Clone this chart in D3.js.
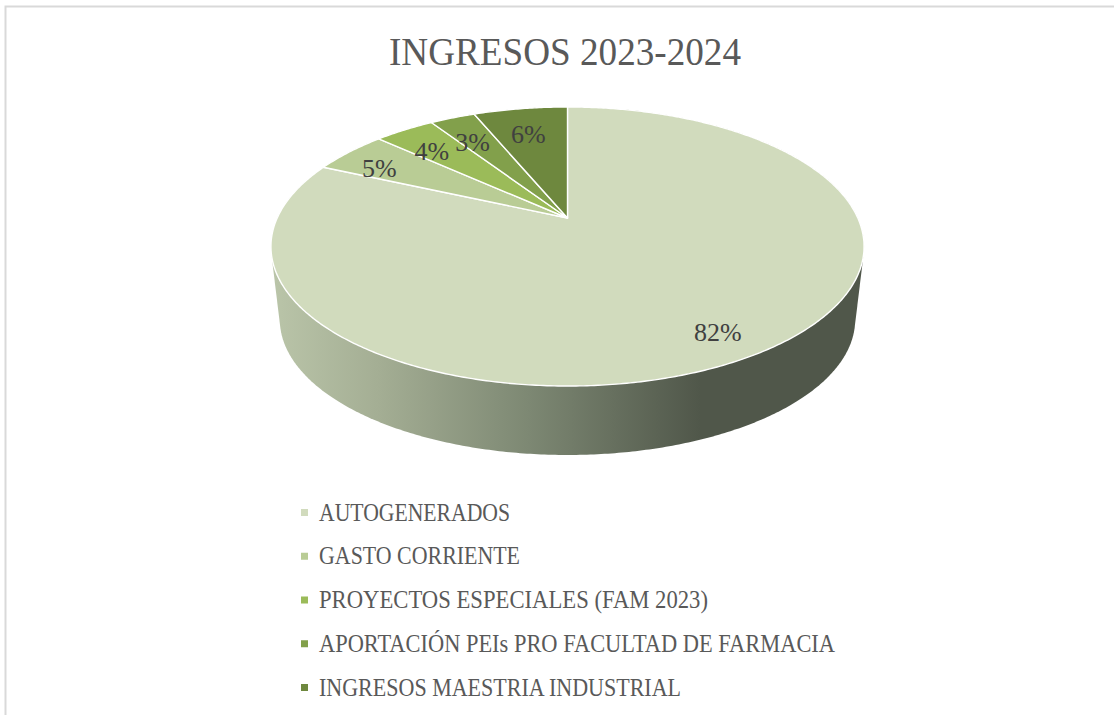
<!DOCTYPE html>
<html lang="es">
<head>
<meta charset="utf-8">
<title>INGRESOS 2023-2024</title>
<script src="https://cdn.jsdelivr.net/npm/d3@7/dist/d3.min.js"></script>
<style>
html,body{margin:0;padding:0;background:#fff;overflow:hidden}
svg{display:block}
text{font-family:"Liberation Serif",serif}
</style>
</head>
<body>
<svg id="chart" width="1114" height="715"></svg>
<script>
const chartTitle = "INGRESOS 2023-2024";
const categories = ["AUTOGENERADOS","GASTO CORRIENTE","PROYECTOS ESPECIALES (FAM 2023)","APORTACIÓN PEIs PRO FACULTAD DE FARMACIA","INGRESOS MAESTRIA INDUSTRIAL"];
const values = [81.75,5,4,3,6.25];
const colors = ["#d1dbbd","#b9cc95","#9bbb59","#82a04b","#6e883e"];
const legendWidths = [191,201,389,516,362];
const labelRadius = [0.82,0.85,0.81,0.8,0.8];

const svg = d3.select("#chart");
const W = 1114, H = 715;

// frame (left and top edges are the only ones visible in the picture)
svg.append("path").attr("d", d3.line()([[5.5,H],[5.5,6.5],[W,6.5]]))
  .attr("fill","none").attr("stroke","#d9d9d9").attr("stroke-width",2);

svg.append("text").attr("x",389).attr("y",64.5)
  .attr("font-size",39).attr("fill","#595959")
  .attr("textLength",352).attr("lengthAdjust","spacingAndGlyphs").text(chartTitle);

// perspective projection of the pie's unit circle
const cx = 567.5, apexY = 218, k = 0.2043, a = 290.3, b = 133.7;
const project = (theta, r = 1, dy = 0, s = 1) => {
  const u = r * Math.sin(theta), v = -r * Math.cos(theta), w = 1 - k * v;
  return [cx + s * a * u / w, apexY + dy + s * b * v / w];
};
const arcPoints = (t0, t1, dy = 0, s = 1) => {
  const n = Math.max(2, Math.ceil((t1 - t0) / 0.01));
  return d3.range(n + 1).map(i => project(t0 + (t1 - t0) * i / n, 1, dy, s));
};

const pie = d3.pie().sort(null).value(d => d)(values);

// side wall
const depth = 74, baseScale = 0.97;
const hull = d3.polygonHull(arcPoints(0, 2 * Math.PI).concat(arcPoints(0, 2 * Math.PI, depth, baseScale)));
const defs = svg.append("defs");
const grad = defs.append("linearGradient").attr("id","wall").attr("gradientUnits","userSpaceOnUse")
  .attr("x1",271).attr("x2",700).attr("y1",0).attr("y2",0);
[[0,"#bac5a9"],[0.25,"#a4ae94"],[0.6,"#7d8873"],[1,"#50574a"]].forEach(([o,c]) =>
  grad.append("stop").attr("offset",o).attr("stop-color",c));
svg.append("path").attr("d", d3.line()(hull) + "Z").attr("fill","url(#wall)");

// top slices
svg.append("g").selectAll("path").data(pie).join("path")
  .attr("d", d => d3.line()([[cx,apexY], ...arcPoints(d.startAngle,d.endAngle)]) + "Z")
  .attr("fill",(d,i) => colors[i])
  .attr("stroke","#fff").attr("stroke-width",1.4).attr("stroke-linejoin","round");

// percentage labels
const total = d3.sum(values);
svg.append("g").selectAll("text").data(pie).join("text")
  .attr("text-anchor","middle").attr("font-size",26).attr("fill","#404040")
  .attr("transform", (d,i) => {
    const [x,y] = project((d.startAngle + d.endAngle) / 2, labelRadius[i], 6.5);
    return `translate(${x},${y + 9})`;
  })
  .text(d => d3.format(".0%")(d.value / total));

// legend
const legendY = d3.scalePoint().domain(categories).range([520.5,695.5]);
const legend = svg.append("g").selectAll("g").data(categories).join("g")
  .attr("transform", d => `translate(301,${legendY(d)})`);
legend.append("rect").attr("x",0).attr("y",-11.5).attr("width",7).attr("height",7)
  .attr("fill",(d,i) => colors[i]);
legend.append("text").attr("x",18).attr("font-size",24.5).attr("fill","#595959")
  .attr("textLength",(d,i) => legendWidths[i]).attr("lengthAdjust","spacingAndGlyphs").text(d => d);
</script>
</body>
</html>
